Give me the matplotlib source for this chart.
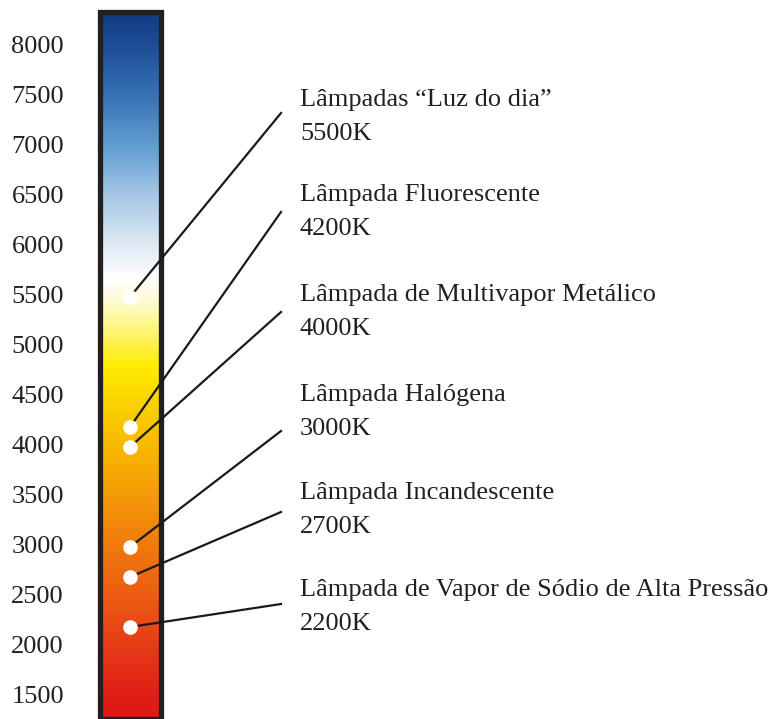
import numpy as np
import matplotlib.pyplot as plt
from matplotlib.colors import LinearSegmentedColormap
from matplotlib.patches import Rectangle

# escala de temperatura de cor (K)
temp_ticks = [8000, 7500, 7000, 6500, 6000, 5500, 5000, 4500,
              4000, 3500, 3000, 2500, 2000, 1500]

lamp_names = ['Lâmpadas \u201cLuz do dia\u201d',
              'Lâmpada Fluorescente',
              'Lâmpada de Multivapor Metálico',
              'Lâmpada Halógena',
              'Lâmpada Incandescente',
              'Lâmpada de Vapor de Sódio de Alta Pressão']
lamp_temps = [5500, 4200, 4000, 3000, 2700, 2200]

# cores do gradiente ao longo da escala (K -> cor)
grad_temps = [1280, 1500, 2000, 2500, 3000, 3500, 4000, 4500, 4800,
              5200, 5500, 5700, 6000, 6500, 7000, 7500, 8000, 8350]
grad_colors = ['#dc1a14', '#e01e14', '#e63c18', '#ec5c14', '#f07a0c',
               '#f49a08', '#f8b800', '#fcd600', '#ffec00', '#fff680',
               '#fffbe0', '#ffffff', '#e2ebf4', '#a9cae7', '#639fd3',
               '#3a74b6', '#1e5098', '#103b80']

# limites do gráfico em K
y_top, y_bottom = 8470, 1280
bar_left, bar_right = 100, 161
bar_top = 8350

fig = plt.figure(figsize=(7.69, 7.19), dpi=100)
ax = fig.add_axes([0, 0, 1, 1])
ax.set_xlim(0, 769)
ax.set_ylim(y_bottom, y_top)
ax.axis('off')

# barra em gradiente
t0, t1 = grad_temps[0], grad_temps[-1]
stops = [(t - t0) / (t1 - t0) for t in grad_temps]
cmap = LinearSegmentedColormap.from_list('kelvin', list(zip(stops, grad_colors)))
grad = np.linspace(0, 1, 500).reshape(-1, 1)
ax.imshow(grad, cmap=cmap, aspect='auto', origin='lower',
          extent=[bar_left, bar_right, t0, t1], zorder=1)
ax.add_patch(Rectangle((bar_left, t0), bar_right - bar_left, bar_top - t0,
                       facecolor='none', edgecolor='#231f20', lw=3.8, zorder=2))

font = dict(family='Liberation Serif', color='#231f20')

# rótulos da escala
for t in temp_ticks:
    ax.text(64, t, str(t), ha='right', va='center', fontsize=19, **font)

# pontos e linhas de chamada
text_x = 300
line_end_x = 281
line_end_y = [7340, 6350, 5350, 4160, 3350, 2430]
label_y = [7470, 6520, 5520, 4520, 3540, 2570]
for name, t, ey, ly in zip(lamp_names, lamp_temps, line_end_y, label_y):
    ax.plot([130, line_end_x], [t, ey], color='#1a1a1a', lw=1.6, zorder=3)
    ax.plot(130, t, 'o', ms=9.5, color='white', mec='white', zorder=4)
    ax.text(text_x, ly, name, ha='left', va='center', fontsize=19, **font)
    ax.text(text_x, ly - 340, f'{t}K', ha='left', va='center', fontsize=19, **font)

fig.savefig('out.png', dpi=100)
